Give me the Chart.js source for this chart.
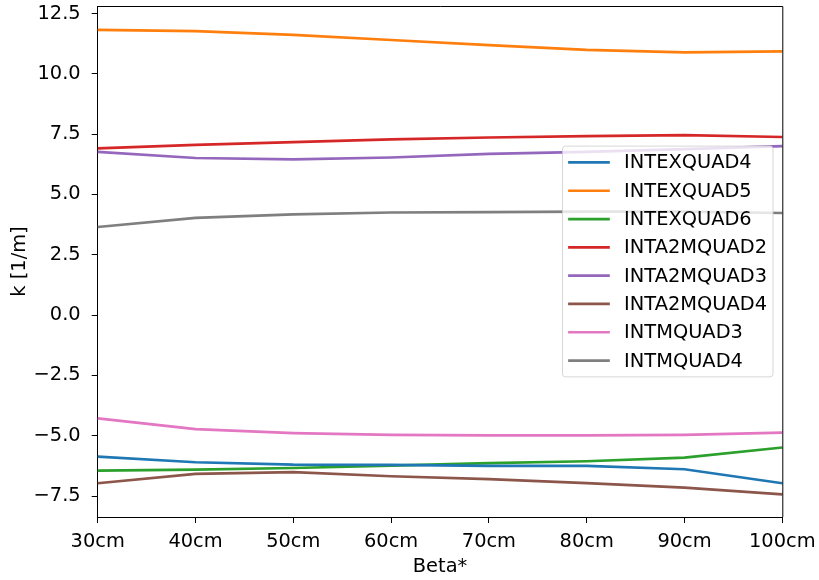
<!DOCTYPE html>
<html>
<head>
<meta charset="utf-8">
<script src="https://cdn.jsdelivr.net/npm/chart.js@4/dist/chart.umd.min.js"></script>
<style>
  html, body { margin: 0; padding: 0; background: #fff; }
  canvas { display: block; }
</style>
</head>
<body>
<canvas id="kChart" width="819" height="580"></canvas>
<script>
// beta* settings along the x axis
const betaLabels = ['30cm', '40cm', '50cm', '60cm', '70cm', '80cm', '90cm', '100cm'];

// quadrupole strengths k [1/m] per beta*
const intexquad4  = [-5.87, -6.10, -6.20, -6.21, -6.25, -6.25, -6.39, -6.97];
const intexquad5  = [11.82, 11.77, 11.61, 11.40, 11.19, 10.99, 10.89, 10.93];
const intexquad6  = [-6.45, -6.41, -6.34, -6.24, -6.14, -6.06, -5.91, -5.49];
const inta2mquad2 = [6.91, 7.05, 7.17, 7.28, 7.36, 7.42, 7.46, 7.38];
const inta2mquad3 = [6.76, 6.51, 6.45, 6.53, 6.68, 6.76, 6.88, 7.00];
const inta2mquad4 = [-6.97, -6.58, -6.51, -6.68, -6.80, -6.97, -7.15, -7.43];
const intmquad3   = [-4.28, -4.73, -4.89, -4.97, -4.99, -4.99, -4.97, -4.87];
const intmquad4   = [3.65, 4.03, 4.17, 4.25, 4.27, 4.29, 4.29, 4.23];

const yTicks = [-7.5, -5.0, -2.5, 0.0, 2.5, 5.0, 7.5, 10.0, 12.5];

const FONT = 'DejaVu Sans';
const FONT_SIZE = 19.4;

const series = [
  { label: 'INTEXQUAD4',  data: intexquad4,  color: '#1f77b4' },
  { label: 'INTEXQUAD5',  data: intexquad5,  color: '#ff7f0e' },
  { label: 'INTEXQUAD6',  data: intexquad6,  color: '#2ca02c' },
  { label: 'INTA2MQUAD2', data: inta2mquad2, color: '#d62728' },
  { label: 'INTA2MQUAD3', data: inta2mquad3, color: '#9467bd' },
  { label: 'INTA2MQUAD4', data: inta2mquad4, color: '#8c564b' },
  { label: 'INTMQUAD3',   data: intmquad3,   color: '#e377c2' },
  { label: 'INTMQUAD4',   data: intmquad4,   color: '#7f7f7f' }
];

// top and right spines
const frameBox = {
  id: 'frameBox',
  afterDraw(chart) {
    const { ctx, chartArea: a } = chart;
    ctx.save();
    ctx.strokeStyle = '#000';
    ctx.lineWidth = 1;
    ctx.beginPath();
    ctx.moveTo(a.left, a.top + 0.5);
    ctx.lineTo(a.right + 0.5, a.top + 0.5);
    ctx.lineTo(a.right + 0.5, a.bottom);
    ctx.stroke();
    ctx.restore();
  }
};

// legend box sitting inside the plot, centre right
const innerLegend = {
  id: 'innerLegend',
  afterDraw(chart) {
    const { ctx, chartArea: a } = chart;
    const sets = chart.data.datasets;
    const rowH = 28.3, padL = 5.6, lineLen = 41.7, gap = 14.3, padR = 6, padV = 2.2;
    ctx.save();
    ctx.font = `${FONT_SIZE}px "${FONT}"`;
    const textW = Math.max(...sets.map(d => ctx.measureText(d.label).width));
    const w = padL + lineLen + gap + textW + padR;
    const h = sets.length * rowH + padV * 2;
    const x = a.right - 9.3 - w;
    const y = (a.top + a.bottom) / 2 - h / 2;

    ctx.beginPath();
    ctx.roundRect(x, y, w, h, 3);
    ctx.fillStyle = 'rgba(255,255,255,0.8)';
    ctx.fill();
    ctx.strokeStyle = 'rgba(204,204,204,0.8)';
    ctx.lineWidth = 1;
    ctx.stroke();

    ctx.textBaseline = 'middle';
    ctx.textAlign = 'left';
    sets.forEach((d, i) => {
      const cy = y + padV + rowH * (i + 0.5);
      ctx.strokeStyle = d.borderColor;
      ctx.lineWidth = 2.7;
      ctx.beginPath();
      ctx.moveTo(x + padL, cy);
      ctx.lineTo(x + padL + lineLen, cy);
      ctx.stroke();
      ctx.fillStyle = '#000';
      ctx.fillText(d.label, x + padL + lineLen + gap, cy + 1);
    });
    ctx.restore();
  }
};

Chart.defaults.font.family = FONT;
Chart.defaults.font.size = FONT_SIZE;
Chart.defaults.color = '#000';

new Chart(document.getElementById('kChart'), {
  type: 'line',
  data: {
    labels: betaLabels,
    datasets: series.map(s => ({
      label: s.label,
      data: s.data,
      borderColor: s.color,
      backgroundColor: s.color,
      borderWidth: 2.7,
      pointRadius: 0,
      tension: 0,
      fill: false
    }))
  },
  options: {
    responsive: false,
    animation: false,
    devicePixelRatio: 1,
    layout: { padding: { top: 6, right: 36.7, left: 0, bottom: 0 } },
    plugins: {
      legend: { display: false },
      tooltip: { enabled: false }
    },
    scales: {
      x: {
        offset: false,
        grid: { drawOnChartArea: false, drawTicks: true, tickLength: 6, color: '#000' },
        border: { color: '#000', width: 1 },
        ticks: { padding: 7, maxRotation: 0, autoSkip: false },
        title: { display: true, text: 'Beta*', padding: { top: 0, bottom: 1.4 } },
        afterFit: s => {
          s.height = 63;
          s.paddingLeft = 0;
          s.paddingRight = 0;
        }
      },
      y: {
        min: -8.37,
        max: 12.81,
        grid: { drawOnChartArea: false, drawTicks: true, tickLength: 6, color: '#000' },
        border: { color: '#000', width: 1 },
        ticks: {
          padding: 11,
          callback: v => v.toFixed(1).replace('-', '\u2212')
        },
        afterBuildTicks: s => { s.ticks = yTicks.map(v => ({ value: v })); },
        title: { display: true, text: 'k [1/m]', padding: { top: 8, bottom: 0 } },
        afterFit: s => {
          s.width = 97.7;
          s.paddingTop = 0;
          s.paddingBottom = 0;
        }
      }
    }
  },
  plugins: [frameBox, innerLegend]
});
</script>
</body>
</html>
